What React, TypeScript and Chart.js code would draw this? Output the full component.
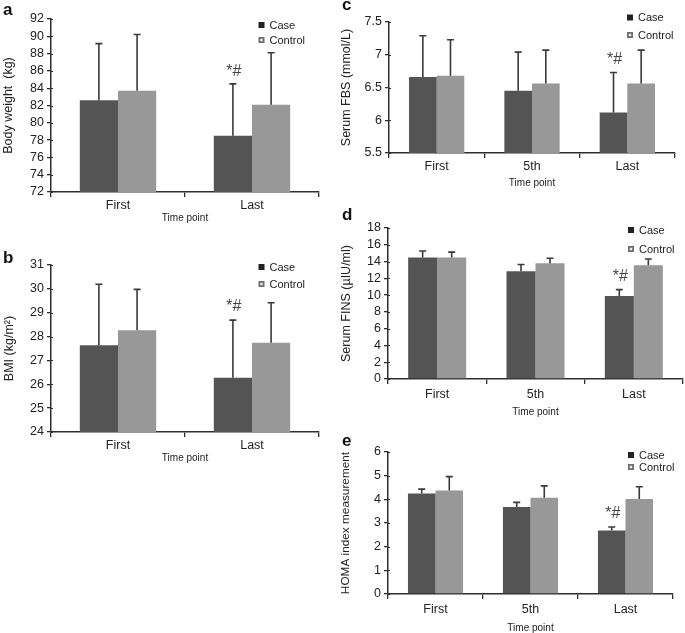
import React, { useEffect, useRef } from 'react';
import { Chart, registerables } from 'chart.js';

Chart.register(...registerables);

// ---------- data ----------
const SERIES = ['Case', 'Control'];
const twoTimePoints = ['First', 'Last'];
const threeTimePoints = ['First', '5th', 'Last'];
const SIGNIFICANCE = '*#';
const significantPoint = 'Last';

const weightCase = [82.6, 78.5];
const weightCaseSD = [6.55, 6.0];
const weightControl = [83.7, 82.1];
const weightControlSD = [6.5, 6.0];

const bmiCase = [27.64, 26.27];
const bmiCaseSD = [2.55, 2.42];
const bmiControl = [28.27, 27.74];
const bmiControlSD = [1.71, 1.68];

const fbsCase = [6.66, 6.45, 6.12];
const fbsCaseSD = [0.63, 0.59, 0.61];
const fbsControl = [6.68, 6.56, 6.56];
const fbsControlSD = [0.55, 0.51, 0.51];

const finsCase = [14.47, 12.85, 9.9];
const finsCaseSD = [0.78, 0.8, 0.75];
const finsControl = [14.47, 13.8, 13.55];
const finsControlSD = [0.65, 0.6, 0.75];

const homaCase = [4.25, 3.68, 2.68];
const homaCaseSD = [0.18, 0.19, 0.15];
const homaControl = [4.37, 4.07, 4.01];
const homaControlSD = [0.59, 0.5, 0.52];

// ---------- styling ----------
const CASE_COLOR = '#545454';
const CONTROL_COLOR = '#989898';
const AXIS_COLOR = '#2e2e2e';
const TEXT_COLOR = '#222222';
const FONT = 'Arial, "Liberation Sans", Helvetica, sans-serif';

type Box = { left: number; top: number; width: number; height: number };
type Area = { left: number; right: number; top: number; bottom: number };
type PanelSpec = {
  letter: string;
  letterPos: [number, number];
  box: Box;
  area: Area;
  labels: string[];
  caseMean: number[];
  caseSD: number[];
  ctrlMean: number[];
  ctrlSD: number[];
  yMin: number;
  yMax: number;
  yStep: number;
  yTitle: string;
  yTitleSize: number;
  yTitlePad: number;
  legend: { x: number; y1: number; y2: number };
  xLabelPad: number;
  xTitlePad: number;
  barPct: number;
  markGap: number;
};

const panels: PanelSpec[] = [
  {
    letter: 'a', letterPos: [3, 15],
    box: { left: 0, top: 0, width: 335, height: 224 },
    area: { left: 51, right: 319, top: 19, bottom: 192 },
    labels: twoTimePoints,
    caseMean: weightCase, caseSD: weightCaseSD, ctrlMean: weightControl, ctrlSD: weightControlSD,
    yMin: 72, yMax: 92, yStep: 2,
    yTitle: 'Body weight  (kg)', yTitleSize: 12.5, yTitlePad: 2,
    legend: { x: 261.5, y1: 25, y2: 40 },
    xLabelPad: 1, xTitlePad: 1, barPct: 0.57, markGap: 12,
  },
  {
    letter: 'b', letterPos: [3, 263],
    box: { left: 0, top: 232, width: 335, height: 232 },
    area: { left: 51, right: 319, top: 265, bottom: 432 },
    labels: twoTimePoints,
    caseMean: bmiCase, caseSD: bmiCaseSD, ctrlMean: bmiControl, ctrlSD: bmiControlSD,
    yMin: 24, yMax: 31, yStep: 1,
    yTitle: 'BMI (kg/m²)', yTitleSize: 12.5, yTitlePad: 3,
    legend: { x: 261.5, y1: 267, y2: 284 },
    xLabelPad: 1, xTitlePad: 1, barPct: 0.57, markGap: 14,
  },
  {
    letter: 'c', letterPos: [342, 10],
    box: { left: 340, top: 0, width: 345, height: 189 },
    area: { left: 389, right: 675, top: 22, bottom: 153 },
    labels: threeTimePoints,
    caseMean: fbsCase, caseSD: fbsCaseSD, ctrlMean: fbsControl, ctrlSD: fbsControlSD,
    yMin: 5.5, yMax: 7.5, yStep: 0.5,
    yTitle: 'Serum FBS (mmol/L)', yTitleSize: 12.5, yTitlePad: 0,
    legend: { x: 630, y1: 17.5, y2: 35 },
    xLabelPad: 1, xTitlePad: 1, barPct: 0.58, markGap: 13,
  },
  {
    letter: 'd', letterPos: [342, 220],
    box: { left: 340, top: 195, width: 345, height: 223 },
    area: { left: 388, right: 683, top: 228, bottom: 379 },
    labels: threeTimePoints,
    caseMean: finsCase, caseSD: finsCaseSD, ctrlMean: finsControl, ctrlSD: finsControlSD,
    yMin: 0, yMax: 18, yStep: 2,
    yTitle: 'Serum FINS (µIU/ml)', yTitleSize: 12.5, yTitlePad: 0,
    legend: { x: 631, y1: 230, y2: 249 },
    xLabelPad: 3, xTitlePad: 1, barPct: 0.59, markGap: 13,
  },
  {
    letter: 'e', letterPos: [342, 446],
    box: { left: 340, top: 420, width: 345, height: 213 },
    area: { left: 388, right: 673, top: 452, bottom: 594 },
    labels: threeTimePoints,
    caseMean: homaCase, caseSD: homaCaseSD, ctrlMean: homaControl, ctrlSD: homaControlSD,
    yMin: 0, yMax: 6, yStep: 1,
    yTitle: 'HOMA index measurement', yTitleSize: 11.8, yTitlePad: 0,
    legend: { x: 631, y1: 455, y2: 467 },
    xLabelPad: 3, xTitlePad: 0, barPct: 0.58, markGap: 13,
  },
];

function extrasPlugin(p: PanelSpec) {
  return {
    id: 'panelExtras',
    afterDatasetsDraw(chart: any) {
      const ctx = chart.ctx as CanvasRenderingContext2D;
      const yScale = chart.scales.y;
      const means = [p.caseMean, p.ctrlMean];
      const sds = [p.caseSD, p.ctrlSD];
      ctx.save();
      ctx.strokeStyle = '#3a3a3a';
      ctx.lineWidth = 1.6;
      for (let di = 0; di < 2; di++) {
        const meta = chart.getDatasetMeta(di);
        meta.data.forEach((el: any, i: number) => {
          const top = yScale.getPixelForValue(means[di][i] + sds[di][i]);
          ctx.beginPath();
          ctx.moveTo(el.x, el.y);
          ctx.lineTo(el.x, top);
          ctx.moveTo(el.x - 3.5, top);
          ctx.lineTo(el.x + 3.5, top);
          ctx.stroke();
          if (di === 0 && p.labels[i] === significantPoint) {
            ctx.fillStyle = '#444';
            ctx.font = `16px ${FONT}`;
            ctx.textAlign = 'center';
            ctx.textBaseline = 'middle';
            ctx.fillText(SIGNIFICANCE, el.x + 1, top - p.markGap);
          }
        });
      }
      // small tick stubs crossing to the inside of the y axis
      const xa = chart.chartArea.left;
      ctx.strokeStyle = AXIS_COLOR;
      ctx.lineWidth = 1.2;
      yScale.ticks.forEach((t: any) => {
        const y = Math.round(yScale.getPixelForValue(t.value)) + 0.5;
        ctx.beginPath();
        ctx.moveTo(xa, y);
        ctx.lineTo(xa + 2, y);
        ctx.stroke();
      });
      ctx.restore();
    },
    afterDraw(chart: any) {
      const ctx = chart.ctx as CanvasRenderingContext2D;
      const ox = p.box.left;
      const oy = p.box.top;
      ctx.save();
      // panel letter
      ctx.fillStyle = '#111';
      ctx.font = `bold 17px ${FONT}`;
      ctx.textAlign = 'left';
      ctx.textBaseline = 'alphabetic';
      ctx.fillText(p.letter, p.letterPos[0] - ox, p.letterPos[1] - oy);
      // legend
      const lx = p.legend.x - ox;
      const ys = [p.legend.y1 - oy, p.legend.y2 - oy];
      ctx.font = `11px ${FONT}`;
      ctx.textBaseline = 'middle';
      ctx.fillStyle = '#222';
      ctx.fillRect(lx - 3, ys[0] - 3, 6, 6);
      ctx.fillStyle = '#6e6e6e';
      ctx.fillRect(lx - 3, ys[1] - 3, 6, 6);
      ctx.fillStyle = '#eeeeee';
      ctx.fillRect(lx - 1.2, ys[1] - 1.2, 2.4, 2.4);
      ctx.fillStyle = TEXT_COLOR;
      ctx.fillText(SERIES[0], lx + 8, ys[0] + 0.5);
      ctx.fillText(SERIES[1], lx + 8, ys[1] + 0.5);
      ctx.restore();
    },
  };
}

function buildConfig(p: PanelSpec): any {
  const yAxisWidth = p.area.left - p.box.left;
  const xAxisHeight = p.box.top + p.box.height - p.area.bottom;
  return {
    type: 'bar',
    data: {
      labels: p.labels,
      datasets: [
        { label: SERIES[0], data: p.caseMean, backgroundColor: CASE_COLOR, borderWidth: 0 },
        { label: SERIES[1], data: p.ctrlMean, backgroundColor: CONTROL_COLOR, borderWidth: 0 },
      ],
    },
    options: {
      responsive: false,
      animation: false,
      devicePixelRatio: 1,
      layout: {
        padding: {
          top: p.area.top - p.box.top,
          right: p.box.left + p.box.width - p.area.right,
          left: 0,
          bottom: 0,
        },
      },
      datasets: { bar: { categoryPercentage: p.barPct, barPercentage: 1 } },
      plugins: { legend: { display: false }, tooltip: { enabled: false } },
      scales: {
        x: {
          grid: { offset: true, drawOnChartArea: false, drawTicks: true, tickLength: 5, color: AXIS_COLOR, lineWidth: 1.3 },
          border: { display: true, color: AXIS_COLOR, width: 1.5 },
          ticks: { color: TEXT_COLOR, font: { family: FONT, size: 12.5 }, padding: p.xLabelPad, maxRotation: 0, autoSkip: false },
          title: {
            display: true, text: 'Time point', color: TEXT_COLOR,
            font: { family: FONT, size: 10, lineHeight: 1 },
            padding: { top: 0, bottom: p.xTitlePad },
          },
          afterFit: (s: any) => { s.height = xAxisHeight; },
        },
        y: {
          min: p.yMin,
          max: p.yMax,
          grid: { drawOnChartArea: false, drawTicks: true, tickLength: 4, color: AXIS_COLOR, lineWidth: 1.3 },
          border: { display: true, color: AXIS_COLOR, width: 1.5 },
          ticks: {
            stepSize: p.yStep,
            autoSkip: false,
            color: TEXT_COLOR,
            font: { family: FONT, size: 12.5 },
            padding: 3,
            callback: (v: any) => String(Math.round(Number(v) * 100) / 100),
          },
          title: {
            display: true, text: p.yTitle, color: TEXT_COLOR,
            font: { family: FONT, size: p.yTitleSize, lineHeight: 1 },
            padding: { top: p.yTitlePad, bottom: 0 },
          },
          afterFit: (s: any) => { s.width = yAxisWidth; },
        },
      },
    },
    plugins: [extrasPlugin(p)],
  };
}

function Panel({ spec }: { spec: PanelSpec }) {
  const ref = useRef<HTMLCanvasElement>(null);
  useEffect(() => {
    if (!ref.current) return;
    const chart = new Chart(ref.current, buildConfig(spec));
    return () => chart.destroy();
  }, [spec]);
  return (
    <canvas
      ref={ref}
      width={spec.box.width}
      height={spec.box.height}
      style={{
        position: 'absolute',
        left: spec.box.left,
        top: spec.box.top,
        width: spec.box.width,
        height: spec.box.height,
      }}
    />
  );
}

export default function App() {
  return (
    <div style={{ position: 'absolute', left: 0, top: 0, width: 685, height: 633, background: '#ffffff', overflow: 'hidden' }}>
      {panels.map((p) => (
        <Panel key={p.letter} spec={p} />
      ))}
    </div>
  );
}
